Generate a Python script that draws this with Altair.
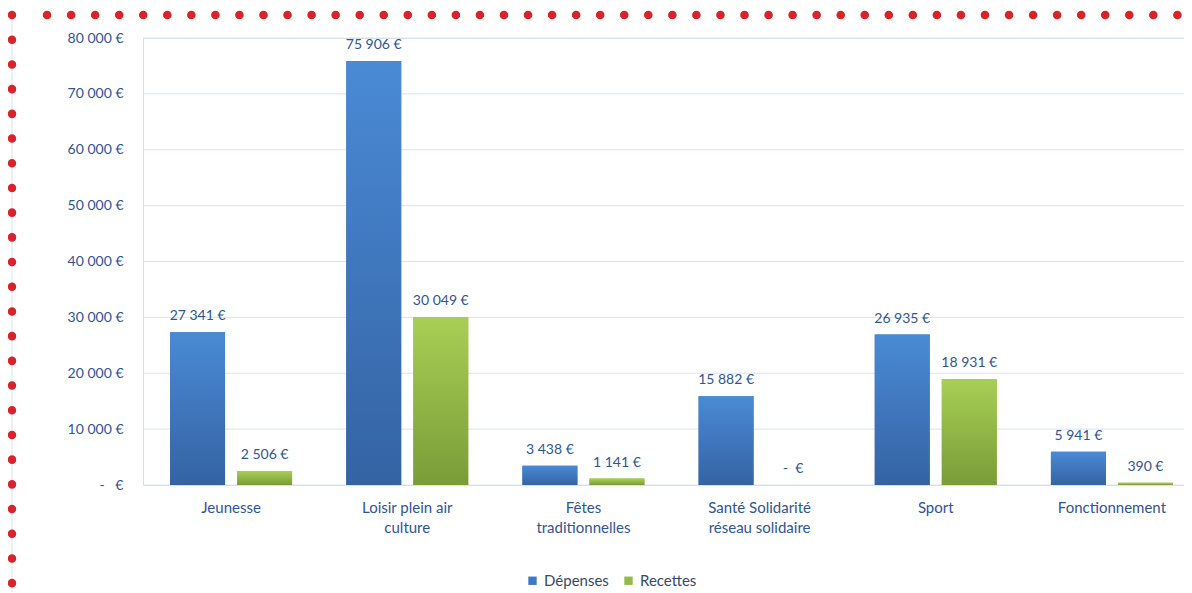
import altair as alt
import pandas as pd

# ---- data ----
categories = ["Jeunesse", "Loisir plein air culture", "Fêtes traditionnelles",
              "Santé Solidarité réseau solidaire", "Sport", "Fonctionnement"]
category_lines = [["Jeunesse"], ["Loisir plein air", "culture"], ["Fêtes", "traditionnelles"],
                  ["Santé Solidarité", "réseau solidaire"], ["Sport"], ["Fonctionnement"]]
series = ["Dépenses", "Recettes"]
depenses = [27341, 75906, 3438, 15882, 26935, 5941]
recettes = [2506, 30049, 1141, 0, 18931, 390]
y_ticks = [0, 10000, 20000, 30000, 40000, 50000, 60000, 70000, 80000]

rows = []
for c, d, r in zip(categories, depenses, recettes):
    rows.append({"cat": c, "serie": "Dépenses", "v": d})
    rows.append({"cat": c, "serie": "Recettes", "v": r})
df = pd.DataFrame(rows)
ticks_df = pd.DataFrame({"v": y_ticks})

FONT = "Lato"
FS = 15
NFS = 14
BLUE_TXT = "#2f5597"
GRID = "#d7e4f4"
NB = "\u00a0"

# multi-line x labels
expr = "''"
for c, lines in reversed(list(zip(categories, category_lines))):
    arr = "[" + ",".join("'" + l + "'" for l in lines) + "]"
    expr = f"datum.value == '{c}' ? {arr} : ({expr})"

fmt_axis = f"datum.value == 0 ? '-{NB*3}€' : replace(format(datum.value, ','), ',', ' ') + ' €'"
fmt_label = f"datum.v == 0 ? '-{NB*2}€' : replace(format(datum.v, ','), ',', ' ') + ' €'"

x_enc = alt.X("cat:N", sort=categories, title=None,
              scale=alt.Scale(paddingInner=0, paddingOuter=0, range=[0, 1057]),
              axis=alt.Axis(labelAngle=0, labelExpr=expr, ticks=False, domain=False,
                            labelColor=BLUE_TXT, labelFontSize=FS,
                            labelFont=FONT, labelPadding=15, labelLineHeight=20,
                            grid=False))
xo_enc = alt.XOffset("serie:N", sort=series,
                     scale=alt.Scale(domain=series, paddingInner=0.18, paddingOuter=0.404))
y_scale = alt.Scale(domain=[0, 80000], nice=False)
y_enc = alt.Y("v:Q", title=None, scale=y_scale,
              axis=alt.Axis(values=y_ticks, labelExpr=fmt_axis, domain=False, ticks=False,
                            grid=False, labelColor=BLUE_TXT,
                            labelFontSize=NFS, labelFont=FONT, labelPadding=20))

# gridlines across the full plot width
grid = alt.Chart(ticks_df).mark_rule(color=GRID, strokeWidth=1).encode(
    y=alt.Y("v:Q", scale=y_scale), x=alt.value(0), x2=alt.value(1060))

base = alt.Chart(df)

legend_bars = base.mark_bar().encode(
    x=x_enc, xOffset=xo_enc, y=y_enc,
    color=alt.Color("serie:N", sort=series,
                    scale=alt.Scale(domain=series, range=["#3f78c4", "#92bc45"]),
                    legend=alt.Legend(title=None, orient="none", direction="horizontal",
                                      legendX=382, legendY=535, symbolType="square",
                                      symbolSize=70, symbolStrokeWidth=0,
                                      labelFont=FONT, labelFontSize=FS,
                                      labelColor="#34496b", columnPadding=12)),
)

def grad(top, bottom):
    return {"gradient": "linear", "x1": 0, "y1": 0, "x2": 0, "y2": 1,
            "stops": [{"offset": 0, "color": top}, {"offset": 1, "color": bottom}]}

dep_bars = base.transform_filter(alt.datum.serie == "Dépenses").mark_bar(
    fill=grad("#4a8ad5", "#3463a3")).encode(x=x_enc, xOffset=xo_enc, y=y_enc)
rec_bars = base.transform_filter(alt.datum.serie == "Recettes").mark_bar(
    fill=grad("#a8cf55", "#7a9c37")).encode(x=x_enc, xOffset=xo_enc, y=y_enc)

labels = base.transform_calculate(lab=fmt_label).mark_text(
    baseline="bottom", dy=-9, font=FONT, fontSize=NFS, color=BLUE_TXT).encode(
    x=x_enc, xOffset=xo_enc, y=y_enc, text="lab:N")

# decorative red dotted frame (top and left) with faint blue line
one = pd.DataFrame({"k": [0]})
blue_line = alt.Chart(one).mark_rule(color=GRID, strokeWidth=1).encode(
    x=alt.value(-131), y=alt.value(-23), y2=alt.value(560))
dots_top = alt.Chart(one).mark_rule(
    color="#d9232b", strokeWidth=8.5, strokeCap="round", strokeDash=[0.1, 23.95]).encode(
    x=alt.value(-96), x2=alt.value(1045), y=alt.value(-23))
dots_left = alt.Chart(one).mark_rule(
    color="#d9232b", strokeWidth=8.5, strokeCap="round", strokeDash=[0.1, 24.6]).encode(
    x=alt.value(-131), y=alt.value(-23), y2=alt.value(560))

chart = alt.layer(grid, legend_bars, dep_bars, rec_bars, labels, blue_line, dots_top, dots_left).properties(
    width=1041, height=447,
    autosize=alt.AutoSizeParams(type="none"),
    padding={"left": 135, "top": 30, "right": 0, "bottom": 107},
).configure_view(stroke=None).configure(font=FONT, background="white")

chart.save("out.html", embed_options={"renderer": "svg", "actions": False})
